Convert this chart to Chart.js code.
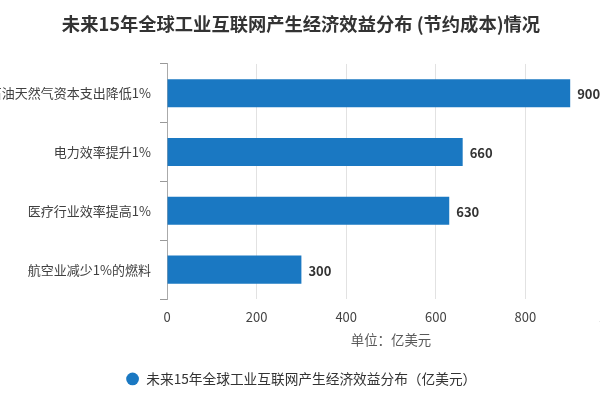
<!DOCTYPE html>
<html>
<head>
<meta charset="utf-8">
<script src="https://cdn.jsdelivr.net/npm/chart.js@4/dist/chart.umd.min.js"></script>
<style>
  html, body { margin: 0; padding: 0; background: #ffffff; overflow: hidden; width: 600px; height: 400px; }
  #wrap { position: absolute; left: -13px; top: 0; width: 656px; height: 400px; }
</style>
</head>
<body>
<div id="wrap"><canvas id="c" width="656" height="400"></canvas></div>
<script>
const categories = ['石油天然气资本支出降低1%', '电力效率提升1%', '医疗行业效率提高1%', '航空业减少1%的燃料'];
const values = [900, 660, 630, 300];
const seriesName = '未来15年全球工业互联网产生经济效益分布（亿美元）';
const titleText = '未来15年全球工业互联网产生经济效益分布 (节约成本)情况';
const axisTitle = '单位：亿美元';
const xTicks = [0, 200, 400, 600, 800, 1000];

const FONT = "'Noto Sans CJK SC', 'Noto Sans', sans-serif";
const BLUE = '#1a78c2';

const valueLabels = {
  id: 'valueLabels',
  afterDatasetsDraw(chart) {
    const ctx = chart.ctx;
    const meta = chart.getDatasetMeta(0);
    ctx.save();
    ctx.font = 'bold 13px ' + FONT;
    ctx.fillStyle = '#333333';
    ctx.textAlign = 'left';
    ctx.textBaseline = 'middle';
    meta.data.forEach((bar, i) => {
      ctx.fillText(String(values[i]), bar.x + 7, bar.y + 1);
    });
    ctx.restore();
  }
};

new Chart(document.getElementById('c'), {
  type: 'bar',
  data: {
    labels: categories,
    datasets: [{
      label: seriesName,
      data: values,
      backgroundColor: BLUE,
      borderWidth: 0,
      barPercentage: 0.477,
      categoryPercentage: 1.0
    }]
  },
  options: {
    indexAxis: 'y',
    responsive: false,
    animation: false,
    devicePixelRatio: 1,
    layout: { padding: { left: 0, right: 28, top: 0, bottom: 4.2 } },
    plugins: {
      title: {
        display: true,
        text: titleText,
        color: '#333333',
        font: { family: FONT, size: 18.3, weight: 'bold', lineHeight: 1.2 },
        padding: { top: 13, bottom: 29 }
      },
      legend: {
        display: true,
        position: 'bottom',
        labels: {
          usePointStyle: true,
          pointStyle: 'circle',
          boxWidth: 14,
          boxHeight: 9,
          padding: 17,
          color: '#333333',
          font: { family: FONT, size: 13.7 }
        }
      },
      tooltip: { enabled: false }
    },
    scales: {
      x: {
        type: 'linear',
        min: xTicks[0],
        max: xTicks[xTicks.length - 1],
        afterBuildTicks(scale) { scale.ticks = xTicks.map(v => ({ value: v })); },
        afterFit(scale) { scale.height = 56.1; },
        grid: { color: '#e2e2e2', lineWidth: 1, drawTicks: false },
        border: { display: false },
        ticks: { color: '#444444', padding: 10, font: { family: FONT, size: 13, lineHeight: 1.2 } },
        title: {
          display: true,
          text: axisTitle,
          color: '#595959',
          font: { family: FONT, size: 13.4, lineHeight: 1.2 },
          padding: { top: 7, bottom: 7.3 }
        }
      },
      y: {
        afterFit(scale) { scale.width = 180; },
        grid: { drawOnChartArea: false, drawTicks: true, tickLength: 7, color: '#999999' },
        border: { display: true, color: '#aaaaaa', width: 1 },
        ticks: { color: '#404040', padding: 9, font: { family: FONT, size: 13 } }
      }
    }
  },
  plugins: [valueLabels]
});
</script>
</body>
</html>
